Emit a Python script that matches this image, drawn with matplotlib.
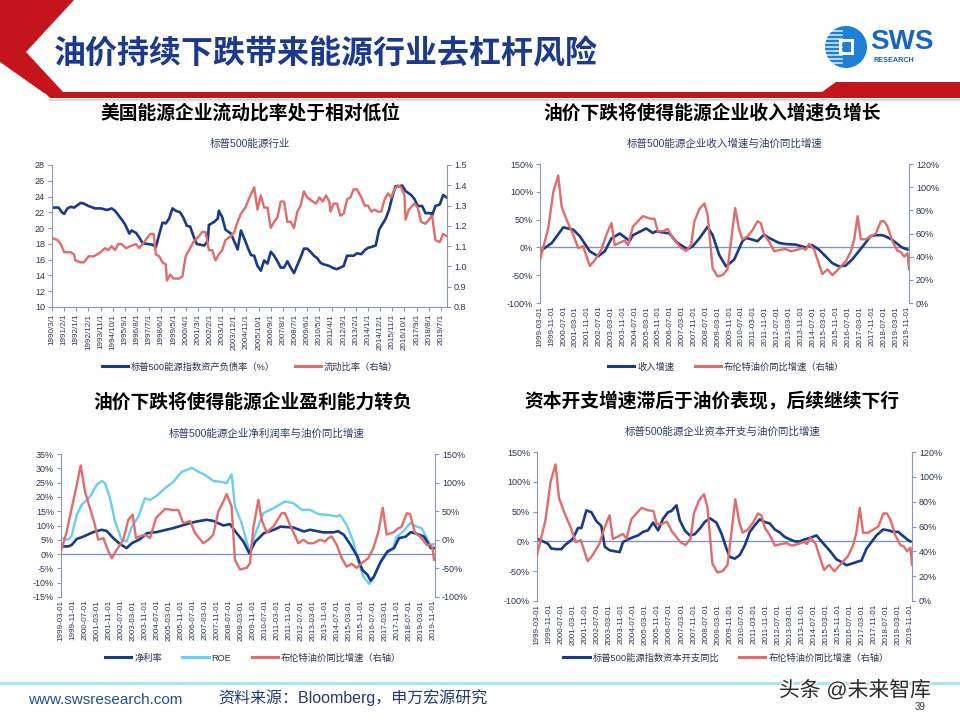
import matplotlib
matplotlib.use("Agg")
import matplotlib.pyplot as plt
import matplotlib.patheffects as pe
from matplotlib.patches import Polygon, Circle, Rectangle
from matplotlib.lines import Line2D
import numpy as np

plt.rcParams['font.family'] = ['Liberation Sans', 'Noto Sans CJK SC', 'DejaVu Sans']
plt.rcParams['axes.unicode_minus'] = False

# ---------------- data ----------------
# chart 1: months since 1990/3
liq_xlabels = ['1990/3/1', '1991/2/1', '1992/1/1', '1992/12/1', '1993/11/1', '1994/10/1',
               '1995/9/1', '1996/8/1', '1997/7/1', '1998/6/1', '1999/5/1', '2000/4/1',
               '2001/3/1', '2002/2/1', '2003/1/1', '2003/12/1', '2004/11/1', '2005/10/1',
               '2006/9/1', '2007/8/1', '2008/7/1', '2009/6/1', '2010/5/1', '2011/4/1',
               '2012/3/1', '2013/2/1', '2014/1/1', '2014/12/1', '2015/11/1', '2016/10/1',
               '2017/9/1', '2018/8/1', '2019/7/1']
debt_month = [0, 6, 9, 11, 14, 17, 20, 26, 29, 33, 39, 44, 50, 54, 57, 62, 66, 70, 72, 76,
              79, 82, 86, 91, 94, 97, 100, 103, 106, 109, 112, 116, 119, 122, 125, 128, 131,
              134, 138, 141, 142, 147, 150, 151, 154, 157, 162, 165, 168, 171, 174, 177, 180,
              183, 186, 189, 192, 195, 198, 201, 204, 207, 210, 213, 216, 219, 222, 225, 228,
              231, 234, 237, 240, 243, 246, 251, 255, 258, 261, 264, 267, 270, 273, 276, 280,
              283, 286, 289, 293, 296, 299, 302, 305, 308, 311, 314, 317, 320, 325, 328, 331,
              335, 338, 343, 344, 347, 351, 354, 357]
debt_ratio = [22.6, 22.6, 22.0, 21.8, 22.5, 22.7, 22.6, 23.2, 23.1, 22.8, 22.5, 22.5, 22.3,
              22.5, 22.2, 21.3, 20.5, 19.3, 19.7, 19.4, 18.8, 18.1, 18.0, 17.9, 17.6, 19.2,
              20.7, 20.6, 21.2, 22.5, 22.2, 22.0, 21.3, 20.3, 20.2, 19.0, 18.0, 17.9, 17.8,
              18.4, 20.4, 20.8, 21.2, 22.2, 21.4, 19.8, 19.3, 18.3, 17.3, 19.7, 18.7, 17.6,
              16.6, 16.5, 15.2, 14.6, 15.9, 15.5, 17.0, 16.5, 15.8, 15.0, 15.0, 15.8, 15.0,
              14.3, 15.3, 16.3, 17.4, 17.4, 17.0, 16.5, 16.2, 15.6, 15.4, 15.2, 14.9, 14.8,
              15.0, 15.2, 16.5, 16.5, 16.5, 16.8, 16.7, 17.2, 17.5, 17.6, 17.8, 19.8, 20.5,
              21.2, 22.3, 24.0, 25.3, 25.3, 25.4, 24.7, 24.2, 23.7, 22.8, 22.8, 21.9, 21.9,
              21.6, 22.8, 23.0, 24.2, 23.9]
cr_month = [0, 5, 8, 11, 14, 17, 20, 21, 26, 29, 33, 38, 41, 44, 48, 51, 54, 57, 60, 63, 67,
            71, 76, 79, 82, 86, 89, 92, 94, 97, 100, 103, 104, 107, 110, 115, 118, 121, 125,
            128, 133, 136, 139, 142, 145, 148, 151, 154, 157, 162, 165, 168, 171, 175, 178,
            183, 186, 189, 192, 195, 198, 201, 204, 207, 210, 213, 216, 219, 222, 225, 228,
            231, 236, 239, 242, 245, 248, 251, 252, 255, 258, 261, 264, 267, 270, 273, 276,
            280, 283, 286, 289, 292, 295, 298, 301, 304, 307, 310, 313, 316, 319, 320, 323,
            328, 331, 334, 338, 341, 344, 347, 351, 354, 357]
current_ratio = [1.14, 1.13, 1.11, 1.07, 1.07, 1.07, 1.06, 1.03, 1.02, 1.02, 1.05, 1.05, 1.06,
                 1.07, 1.09, 1.08, 1.10, 1.08, 1.11, 1.11, 1.09, 1.10, 1.11, 1.09, 1.11, 1.14,
                 1.16, 1.16, 1.06, 1.05, 1.02, 1.01, 0.93, 0.96, 0.94, 0.94, 0.95, 1.05, 1.09,
                 1.12, 1.15, 1.17, 1.17, 1.08, 1.08, 1.03, 1.06, 1.08, 1.13, 1.15, 1.17, 1.22,
                 1.26, 1.29, 1.33, 1.39, 1.28, 1.35, 1.29, 1.29, 1.19, 1.22, 1.24, 1.32, 1.32,
                 1.22, 1.22, 1.19, 1.27, 1.30, 1.37, 1.34, 1.32, 1.31, 1.34, 1.32, 1.35, 1.32,
                 1.27, 1.31, 1.31, 1.25, 1.26, 1.33, 1.34, 1.38, 1.38, 1.34, 1.30, 1.30, 1.27,
                 1.28, 1.27, 1.27, 1.33, 1.36, 1.34, 1.38, 1.40, 1.39, 1.35, 1.23, 1.28, 1.31,
                 1.29, 1.22, 1.21, 1.23, 1.25, 1.13, 1.12, 1.16, 1.15]

# charts 2-4: months since 1999-03
yoy_xlabels = ['1999-03-01', '1999-11-01', '2000-07-01', '2001-03-01', '2001-11-01',
               '2002-07-01', '2003-03-01', '2003-11-01', '2004-07-01', '2005-03-01',
               '2005-11-01', '2006-07-01', '2007-03-01', '2007-11-01', '2008-07-01',
               '2009-03-01', '2009-11-01', '2010-07-01', '2011-03-01', '2011-11-01',
               '2012-07-01', '2013-03-01', '2013-11-01', '2014-07-01', '2015-03-01',
               '2015-11-01', '2016-07-01', '2017-03-01', '2017-11-01', '2018-07-01',
               '2019-03-01', '2019-11-01']
rev_month = [0, 8, 15.7, 22.4, 26.9, 33.6, 39.2, 43.7, 48.2, 53.8, 58.3, 60.5, 62.7, 67.2,
             71.7, 76.1, 78.4, 82.9, 87.4, 91.9, 96.3, 99.7, 103, 107.5, 113.1, 116.5, 121,
             125.5, 131, 136.6, 138.9, 143.4, 146.7, 151.2, 154.6, 161.3, 165.8, 172.5, 179.2,
             183.7, 188.2, 192.7, 197.1, 201.6, 206.1, 210.6, 215.1, 219.6, 222.9, 226.3,
             230.8, 233, 237.5, 244.2, 248]
rev_growth = [-7, 8, 36, 32, 20, -7, -16, -7, 16, 25, 16, 12, 22, 28, 34, 26, 29, 27, 25, 10,
              2, -3, 2, 16, 37, 22, -14, -34, -22, 11, 17, 14, 11, 23, 17, 8, 6, 5, 0, 4, -4,
              -16, -28, -34, -33, -22, -7, 8, 20, 22, 22, 20, 14, 0, -4]
brent_month = [0, 5.6, 9, 12.3, 14.6, 17.9, 22.4, 25.8, 29.1, 33.6, 37, 41.4, 44.8, 48.2, 50.4,
               53.8, 57.1, 59.4, 62.7, 69.4, 73.9, 77.3, 79.5, 82.9, 86.2, 89.6, 95.2, 98.6,
               101.9, 104.2, 107.5, 110.9, 113.1, 116.5, 119.8, 123.2, 126.5, 131.7, 134.4,
               136.6, 140, 143.4, 146.7, 149, 151.2, 154.6, 158, 162.5, 165.8, 169.2, 173.7,
               177.1, 179.3, 181.6, 185, 188.4, 190.6, 194, 197.4, 201.9, 206.4, 209.8, 212,
               214.3, 216.5, 219.9, 223.3, 226.6, 230, 232.3, 234.5, 237.9, 241.3, 243.5,
               245.8, 248, 249]
brent_yoy = [37, 65, 96, 110, 83, 72, 59, 47.5, 49, 32, 37, 46, 59, 69, 50, 52, 54, 50, 66, 75,
             73, 72.5, 62, 62, 64, 56, 47.5, 45, 50, 70.5, 81, 86, 76, 30, 23, 24, 29, 82, 63,
             55, 57.5, 63, 70.5, 69, 59, 53, 44.6, 46, 46.6, 44.6, 46, 47.5, 46, 51, 46, 33, 25,
             29, 24, 30, 36, 44.6, 54.7, 75, 55, 55, 57.5, 60, 70.5, 70.5, 66, 53, 45, 44, 40,
             43, 29]
margin_month = [0, 4.9, 7.1, 10.5, 14.8, 21.5, 27.1, 30.4, 34.8, 39.3, 43.7, 47.1, 52.6, 57.1,
                63.7, 74.8, 83.7, 90.3, 97, 101.4, 108.1, 112.5, 117, 121.4, 125.4, 129.4, 135,
                141.7, 146.1, 154.7, 161.7, 165.8, 174.6, 181.3, 184.6, 188.4, 192.8, 197.3,
                200.6, 204, 206.2, 208.4, 212.9, 217.3, 221.7, 225.1, 229.5, 232.9, 237.3,
                241.7, 245.1, 246.2, 248.5]
net_margin = [2.7, 2.7, 3.2, 5.3, 6.1, 7.7, 8.5, 8.1, 5.6, 3.5, 2.1, 3.8, 5.2, 7.3, 7.7, 9.1,
              10.5, 11.4, 12, 11.6, 10, 10.5, 7.3, 4.4, 0.3, 4.4, 7.3, 8.5, 9.6, 9.3, 7.9, 8.5,
              7.6, 7.6, 8.0, 6.7, 3.2, -0.8, -5.5, -7.2, -9.3, -7.8, -2.6, 0.9, 2.1, 5.6, 6.1,
              7.7, 7, 6.1, 3.2, 2.1, 2.1]
roe_month = [0, 4.9, 7.1, 10.5, 13.8, 19.3, 23.8, 27.1, 29.3, 32.6, 36, 40.4, 43.7, 47.1, 51.5,
             55.9, 59.3, 63.7, 69.2, 74.8, 80.4, 83.7, 87, 91.4, 95.9, 101.4, 105.9, 110.3,
             113.6, 115.8, 120.3, 125.4, 130.3, 134.7, 141.3, 149.1, 154.7, 160.3, 165.8,
             171.3, 178, 183.6, 185.8, 190.2, 194.6, 197.9, 201.3, 205.3, 207.9, 211.3, 216.8,
             221.2, 223.5, 227.9, 232.4, 236.8, 240.1, 243.5, 245.7, 248.5]
roe = [5.6, 5.0, 6.5, 13.7, 17.2, 20.1, 24.2, 25.6, 24.8, 19.5, 11.4, 5.0, 4.4, 9.6, 13.1, 19.5,
       18.9, 20.4, 23, 25.3, 28.8, 29.4, 30.2, 28.8, 27.7, 25.6, 25.3, 24.8, 27.9, 16.6, 10.8,
       0.9, 8.5, 14.3, 16, 18.4, 17.8, 15.5, 15.5, 14, 13.7, 13.1, 13.7, 10.2, 4.4, -2.6, -7.8,
       -10.5, -8.4, -4.3, 0.3, 2.1, 6.1, 7.9, 10.8, 9.6, 9.1, 5.6, 3.2, 3.5]
brent3_month = [0, 3.8, 7.1, 10.5, 13.1, 16, 19.3, 22.6, 24.8, 28.2, 31.5, 33.8, 37.1, 41.5,
                44.8, 47.7, 49.9, 52.6, 55.9, 59.3, 63.2, 69.2, 74.8, 78.1, 81.4, 85.9, 89.2,
                94.7, 98.1, 101.4, 104.7, 108.1, 110.3, 113.6, 115.8, 119.2, 123.6, 125.8, 128,
                131.4, 133.6, 136.9, 141.3, 146.9, 149.1, 152.5, 158, 161.3, 164.6, 168, 172.4,
                175.8, 178, 180.2, 183.6, 186.9, 190.2, 193.5, 196.9, 200.2, 204.6, 207.9,
                211.3, 214.2, 216.8, 221.2, 224.6, 226.8, 230.2, 232.4, 235.7, 239, 243.5,
                245.7, 247.5, 248.3]
brent3_yoy = [-20, 14, 55, 96, 130, 84, 55, 26, 0, 3, -20, -32, -17.5, 0, 35, 44, 3, 6, 9, 3,
              38, 54, 52, 52, 29, 33, 12, -6, 0, 9, 49, 67, 80, 58, -35, -52, -49, -41, 20, 70,
              35, 13, 23, 46.5, 46.5, 26, -6, 0, -6, -6, 0, -3, 3, 6, -9, -32, -47, -42, -49,
              -41, -32, -15, 14, 56, 9, 13, 20, 23, 46.5, 45, 12, 6, -9, -8, -15, -35]
capex_month = [0, 4, 7.3, 9.5, 12.8, 16.2, 18.4, 21.7, 23.9, 27.2, 29.5, 32.8, 36.1, 39.4, 42.7,
               45, 48.3, 52.7, 54.9, 57.1, 60.5, 63.8, 67.1, 70.4, 73.7, 77.1, 80.4, 83.7, 87,
               89.2, 92.6, 94.8, 98.1, 101.4, 104.7, 108.1, 111.4, 114.7, 119.1, 122.5, 125.8,
               128, 131.3, 134.6, 138, 141.3, 144.6, 147.9, 151.2, 154.6, 157.9, 161.2, 164.5,
               167.8, 171.2, 174.5, 177.8, 181.1, 185.6, 188.9, 192.2, 195.5, 198.8, 202.2,
               205.5, 208.8, 212.1, 215.5, 218.8, 222.1, 225.4, 229.8, 233.2, 236.5, 239.8,
               243.1, 246.5, 248]
capex_yoy = [4.6, 0, -4, -12, -13, -13, -6.6, 0, 4.6, 22.5, 22.5, 52, 49, 34, 26, -9, -15, -17,
             -18, -1, 3.5, 7, 10, 16, 18.6, 31.6, 18.6, 38, 49, 51, 60.5, 35.6, 18.6, 10, 12,
             21.4, 32.6, 39, 31.6, 13, -12, -26, -29, -23, -6.6, 16, 27, 37, 32.6, 30, 20, 15,
             7.4, 3.5, 0, 0, 3.5, 5.7, 10, 0, -9.4, -19, -30, -34.6, -40, -37.5, -34.6, -32,
             -12, -1, 10, 20, 18.6, 16, 16, 9, 2, 0]

# ---------------- style ----------------
NAVY = '#183a8a'
RED = '#e26b6b'
SKY = '#6acdf2'
AXC = '#8899b3'
ZERO = '#7b96c2'
TXT = '#2c3650'
W, H = 960, 720

fig = plt.figure(figsize=(9.6, 7.2), dpi=100)
bg = fig.add_axes([0, 0, 1, 1])
bg.set_xlim(0, W)
bg.set_ylim(H, 0)
bg.axis('off')


def px_axes(l, t, r, b):
    return fig.add_axes([l / W, 1 - b / H, (r - l) / W, (b - t) / H])


def dual(l, t, r, b):
    ax = px_axes(l, t, r, b)
    ax2 = ax.twinx()
    for a in (ax, ax2):
        a.patch.set_visible(False)
        for s in ('top', 'bottom'):
            a.spines[s].set_visible(False)
        a.spines['left'].set_color(AXC)
        a.spines['right'].set_color(AXC)
        a.tick_params(axis='y', colors=AXC, labelcolor=TXT, labelsize=6.5,
                      length=3, width=0.8, pad=2)
    ax.spines['right'].set_visible(False)
    ax2.spines['left'].set_visible(False)
    ax.tick_params(axis='x', length=0, labelsize=5.8, labelcolor=TXT, pad=2)
    return ax, ax2


def pct_ticks(a, ticks):
    a.set_yticks(ticks)
    a.set_yticklabels([f'{v}%' for v in ticks])


def legend(handles, labels, x, y):
    fig.legend(handles, labels, loc='center', bbox_to_anchor=(x / W, 1 - y / H),
               ncol=len(handles), frameon=False, fontsize=6.7, handlelength=2.8,
               handletextpad=0.3, columnspacing=2.2, labelcolor=TXT)


# ---------------- header ----------------
bg.add_patch(Polygon([(0, 0), (74, 0), (26, 52), (64, 93), (44, 93), (0, 62)],
                     closed=True, fc='#c3151b', ec='none'))
bg.add_patch(Polygon([(44, 92), (822, 92), (836, 82), (960, 82), (960, 98), (50, 98)],
                     closed=True, fc='#c3151b', ec='none'))
bg.plot([50, 960], [100, 100], color='#d8d8d8', lw=1.5)
bg.text(54, 55, '油价持续下跌带来能源行业去杠杆风险', fontsize=23, fontweight='bold',
        color='#1b3a8e', va='center', ha='left')

# SWS logo
bg.add_patch(Circle((846, 47), 21, fc='#1d7fd6', ec='none'))
for yy in range(31, 65, 4):
    bg.plot([826, 842], [yy, yy], color='white', lw=1.2, alpha=0.8)
bg.add_patch(Rectangle((839, 39), 15, 16, fc='white', ec='none'))
bg.add_patch(Rectangle((842, 42), 9, 10, fc='#1d7fd6', ec='none'))
bg.text(870, 42, 'SWS', fontsize=20, fontweight='bold', color='#1667c4',
        va='center', ha='left')
bg.text(873, 61, 'RESEARCH', fontsize=5.2, fontweight='bold', color='#1667c4',
        va='center', ha='left')

# section titles
for x, y, s in [(250, 113, '美国能源企业流动比率处于相对低位'),
                (712, 113, '油价下跌将使得能源企业收入增速负增长'),
                (253, 402, '油价下跌将使得能源企业盈利能力转负'),
                (712, 402, '资本开支增速滞后于油价表现，后续继续下行')]:
    bg.text(x, y, s, fontsize=13.5, fontweight='bold', color='black', ha='center', va='center')

for x, y, s in [(250, 144, '标普500能源行业'),
                (725, 144, '标普500能源企业收入增速与油价同比增速'),
                (267, 434, '标普500能源企业净利润率与油价同比增速'),
                (723, 432, '标普500能源企业资本开支与油价同比增速')]:
    bg.text(x, y, s, fontsize=7.6, color='#2a3f6e', ha='center', va='center')

# ---------------- chart 1 ----------------
ax, ax2 = dual(52, 165, 447, 307)
ax.spines['bottom'].set_visible(True)
ax.spines['bottom'].set_color(AXC)
ax.tick_params(axis='x', length=3, color=AXC, width=0.8)
ax.plot(debt_month, debt_ratio, color=NAVY, lw=1.9)
ax2.plot(cr_month, current_ratio, color=RED, lw=1.7)
ax.set_ylim(10, 28)
ax.set_yticks(range(10, 29, 2))
ax2.set_ylim(0.8, 1.5)
ax2.set_yticks(np.arange(0.8, 1.51, 0.1))
ax2.set_yticklabels([f'{v:.1f}' for v in np.arange(0.8, 1.51, 0.1)])
ax.set_xlim(0, 357.5)
ax.set_xticks(range(0, 353, 11))
ax.set_xticklabels(liq_xlabels, rotation=90)
legend([Line2D([], [], color=NAVY, lw=2.2), Line2D([], [], color=RED, lw=2.2)],
       ['标普500能源指数资产负债率（%）', '流动比率（右轴）'], 250, 367)

# ---------------- chart 2 ----------------
ax, ax2 = dual(540, 164, 909, 303)
ax.axhline(0, color=ZERO, lw=1)
ax.plot(rev_month, rev_growth, color=NAVY, lw=1.9)
ax2.plot(brent_month, brent_yoy, color=RED, lw=1.7)
ax.set_ylim(-100, 150)
pct_ticks(ax, list(range(-100, 151, 50)))
ax2.set_ylim(0, 120)
pct_ticks(ax2, list(range(0, 121, 20)))
ax.set_xlim(0, 249)
ax.set_xticks(range(0, 249, 8))
ax.set_xticklabels(yoy_xlabels, rotation=90)
legend([Line2D([], [], color=NAVY, lw=2.2), Line2D([], [], color=RED, lw=2.2)],
       ['收入增速', '布伦特油价同比增速（右轴）'], 726, 367)

# ---------------- chart 3 ----------------
ax, ax2 = dual(61, 454, 435, 597)
ax.axhline(0, color=ZERO, lw=1)
ax.plot(roe_month, roe, color=SKY, lw=1.7)
ax.plot(margin_month, net_margin, color=NAVY, lw=1.9)
ax2.plot(brent3_month, brent3_yoy, color=RED, lw=1.7)
ax.set_ylim(-15, 35)
pct_ticks(ax, list(range(-15, 36, 5)))
ax2.set_ylim(-100, 150)
pct_ticks(ax2, list(range(-100, 151, 50)))
ax.set_xlim(0, 249)
ax.set_xticks(range(0, 249, 8))
ax.set_xticklabels(yoy_xlabels, rotation=90)
legend([Line2D([], [], color=NAVY, lw=2.2), Line2D([], [], color=SKY, lw=2.2),
        Line2D([], [], color=RED, lw=2.2)],
       ['净利率', 'ROE', '布伦特油价同比增速（右轴）'], 253, 658)

# ---------------- chart 4 ----------------
ax, ax2 = dual(537, 452, 912, 601)
ax.axhline(0, color=ZERO, lw=1)
ax.plot(capex_month, capex_yoy, color=NAVY, lw=1.9)
ax2.plot(brent_month, brent_yoy, color=RED, lw=1.7)
ax.set_ylim(-100, 150)
pct_ticks(ax, list(range(-100, 151, 50)))
ax2.set_ylim(0, 120)
pct_ticks(ax2, list(range(0, 121, 20)))
ax.set_xlim(0, 249)
ax.set_xticks(range(0, 249, 8))
ax.set_xticklabels(yoy_xlabels, rotation=90)
legend([Line2D([], [], color=NAVY, lw=2.2), Line2D([], [], color=RED, lw=2.2)],
       ['标普500能源指数资本开支同比', '布伦特油价同比增速（右轴）'], 726, 658)

# ---------------- footer ----------------
bg.plot([0, W], [683, 683], color='#a6e3f5', lw=2)
bg.text(28, 700, 'www.swsresearch.com', fontsize=11, color='#1f4f9c', va='center', ha='left')
bg.text(218, 698, '资料来源：Bloomberg，申万宏源研究', fontsize=11.5, color='#1f3a7a',
        va='center', ha='left')
bg.text(920, 707, '39', fontsize=7, color='#333333', va='center', ha='center')
bg.text(855, 690, '头条 @未来智库', fontsize=15, color='#2b2b2b', va='center', ha='center',
        path_effects=[pe.withStroke(linewidth=2, foreground='white')])

fig.savefig('out.png', dpi=100)
